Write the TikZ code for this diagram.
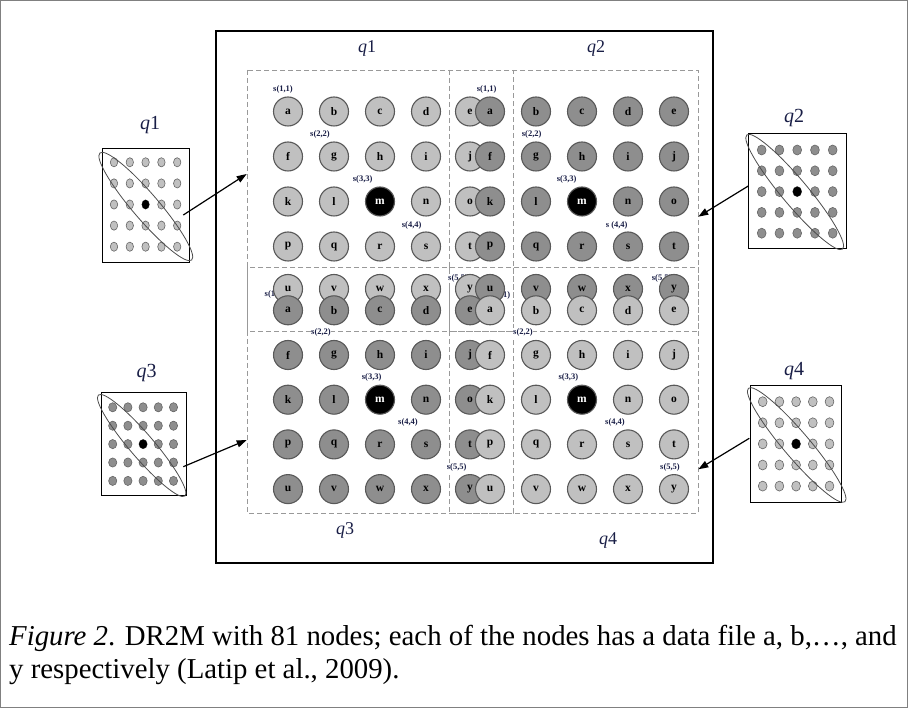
\documentclass[tikz,border=0pt]{standalone}
\usepackage{fontspec}
\setmainfont{Liberation Serif}
\usetikzlibrary{arrows.meta, positioning}

\definecolor{nodelight}{RGB}{192,192,192}
\definecolor{nodedark}{RGB}{142,142,142}
\definecolor{labelnavy}{RGB}{25,30,70}

\begin{document}
\begin{tikzpicture}[x=1pt, y=-1pt,
  peer/.style={circle, draw=black!65, line width=1.1pt, minimum size=29pt, inner sep=0pt, font=\fontsize{11.5}{11.5}\selectfont\bfseries},
  peerlight/.style={peer, fill=nodelight},
  peerdark/.style={peer, fill=nodedark},
  hub/.style={peer, fill=black, text=white},
  slabel/.style={font=\fontsize{8.5}{8.5}\selectfont\bfseries, text=labelnavy, fill=white, inner sep=0.4pt},
  region/.style={draw=black!40, dash pattern=on 5pt off 3pt, line width=0.8pt},
  qname/.style={font=\fontsize{18}{18}\selectfont, text=labelnavy},
  gridname/.style={font=\fontsize{20}{20}\selectfont, text=labelnavy},
  dotlight/.style={fill=nodelight, draw=black!60, line width=0.6pt},
  dotdark/.style={fill=nodedark, draw=black!60, line width=0.6pt},
  feed/.style={-{Triangle[length=10pt,width=7pt]}, line width=1.2pt},
  caption/.style={font=\fontsize{28.8}{33}\selectfont, anchor=base west, inner sep=0pt}
]
  \useasboundingbox (0,0) rectangle (908,708);

  % Outer figure frame
  \draw[black!50, line width=1pt] (0.5,0.5) rectangle (907.5,707.5);

  % Main frame
  \draw[line width=1.2pt] (216,31) rectangle (713,563);

  % Quadrant regions (overlapping by one row / column)
  \draw[region] (247,70) rectangle (513,331);
  \draw[region] (449,70) rectangle (698,331);
  \draw[region] (247,267) rectangle (513,513);
  \draw[region] (449,267) rectangle (698,513);

  % Quadrant names
  \node[qname] (q1-name) at (367,48) {\textit{q}1};
  \node[qname] (q2-name) at (596,48) {\textit{q}2};
  \node[qname] (q3-name) at (345,530) {\textit{q}3};
  \node[qname] (q4-name) at (608,540) {\textit{q}4};

  % Diagonal labels s(k,k)
  \foreach \qd/\k/\lx/\ly/\txt in {
      q1/1/283/89.3/{s(1,1)}, q1/2/320/134/{s(2,2)}, q1/3/362.7/179.3/{s(3,3)}, q1/4/411.7/225/{s(4,4)}, q1/5/458/278.3/{s(5,5)},
      q2/1/486.7/89.3/{s(1,1)}, q2/2/531.7/134/{s(2,2)}, q2/3/566.7/179.3/{s(3,3)}, q2/4/616.7/225/{s (4,4)}, q2/5/661.7/278.3/{s(5,5)},
      q3/1/274.5/294/{s(1,1)}, q3/2/321/332.7/{s(2,2)}, q3/3/371.7/377.7/{s(3,3)}, q3/4/408/422.7/{s(4,4)}, q3/5/456.7/467.7/{s(5,5)},
      q4/1/500.5/295/{s(1,1)}, q4/2/523/332.7/{s(2,2)}, q4/3/568.3/377.7/{s(3,3)}, q4/4/615/422.7/{s(4,4)}, q4/5/670/467.7/{s(5,5)}}
    \node[slabel] (\qd-s\k) at (\lx,\ly) {\txt};

  % Peer nodes a..y of each quadrant, q1 first so later quadrants lie on top
  \foreach \qd/\xo/\xc/\yo/\dy/\yc/\tone in {
      q1/288/-2/111.5/45/-2.5/peerlight,
      q2/490/0/111.5/45/-2.5/peerdark,
      q3/288/-2/310.3/44.7/0/peerdark,
      q4/490/0/310.3/44.7/0/peerlight} {
    \foreach \ltr [count=\i from 0] in {a,b,c,d,e,f,g,h,i,j,k,l,m,n,o,p,q,r,s,t,u,v,w,x,y} {
      \pgfmathtruncatemacro\col{mod(\i,5)}
      \pgfmathtruncatemacro\row{div(\i,5)}
      \pgfmathsetmacro\px{\xo+46*\col+(\xc)*(\col==4)}
      \pgfmathsetmacro\py{\yo+\dy*\row+(\yc)*(\row==4)}
      \ifnum\i=12
        \node[hub] (\qd-\ltr) at (\px,\py) {\ltr};
      \else
        \node[\tone] (\qd-\ltr) at (\px,\py) {\ltr};
      \fi
    }
  }

  % Small grid q1
  \node[gridname] (g1-name) at (150,125) {\textit{q}1};
  \draw[line width=1pt] (102.3,149) rectangle (189.3,262.3);
  \foreach \cc in {0,...,4}
    \foreach \rr in {0,...,4}
      \draw[dotlight] ({114+15.8*\cc},{162.3+21.1*\rr}) ellipse [x radius=3.7pt, y radius=4.6pt];
  \fill (145.6,204.5) ellipse [x radius=3.7pt, y radius=4.6pt];
  \draw[black!70, line width=0.8pt, rotate around={-49.4:(145.8,206.5)}] (145.8,206.5) ellipse [x radius=70.5pt, y radius=13pt];
  \coordinate (g1-tail) at (183.3,215);
  \coordinate (g1-head) at (246.7,174);
  \draw[feed] (g1-tail) -- (g1-head);

  % Small grid q2
  \node[gridname] (g2-name) at (794,118) {\textit{q}2};
  \draw[line width=1pt] (748.3,133.3) rectangle (846.7,249);
  \foreach \cc in {0,...,4}
    \foreach \rr in {0,...,4}
      \draw[dotdark] ({761.7+17.75*\cc},{150+20.8*\rr}) ellipse [x radius=4.4pt, y radius=5pt];
  \fill (797.2,191.6) ellipse [x radius=4.4pt, y radius=5pt];
  \draw[black!70, line width=0.8pt, rotate around={-50:(794.7,192)}] (794.7,192) ellipse [x radius=74.5pt, y radius=13pt];
  \coordinate (g2-tail) at (748.3,186);
  \coordinate (g2-head) at (698.3,216.7);
  \draw[feed] (g2-tail) -- (g2-head);

  % Small grid q3
  \node[gridname] (g3-name) at (146.7,373) {\textit{q}3};
  \draw[line width=1pt] (101,392.7) rectangle (186,495.7);
  \foreach \cc in {0,...,4}
    \foreach \rr in {0,...,4}
      \draw[dotdark] ({112.7+15.2*\cc},{407.3+18.4*\rr}) ellipse [x radius=4.1pt, y radius=4.6pt];
  \fill (143.1,444.1) ellipse [x radius=4.1pt, y radius=4.6pt];
  \draw[black!70, line width=0.8pt, rotate around={-49.4:(141.7,445.5)}] (141.7,445.5) ellipse [x radius=66.5pt, y radius=12pt];
  \coordinate (g3-tail) at (183.3,466.7);
  \coordinate (g3-head) at (246.7,440);
  \draw[feed] (g3-tail) -- (g3-head);

  % Small grid q4
  \node[gridname] (g4-name) at (794,371) {\textit{q}4};
  \draw[line width=1pt] (750.7,385.7) rectangle (841.7,502.7);
  \foreach \cc in {0,...,4}
    \foreach \rr in {0,...,4}
      \draw[dotlight] ({762.7+16.7*\cc},{401.7+21.1*\rr}) ellipse [x radius=4.4pt, y radius=5pt];
  \fill (796.1,443.9) ellipse [x radius=4.4pt, y radius=5pt];
  \draw[black!70, line width=0.8pt, rotate around={-49.6:(796.7,445)}] (796.7,445) ellipse [x radius=74.5pt, y radius=13pt];
  \coordinate (g4-tail) at (749.3,438.3);
  \coordinate (g4-head) at (698.3,469.3);
  \draw[feed] (g4-tail) -- (g4-head);

  % Caption
  \node[caption] (caption1) at (9,645) {\textit{Figure 2}. DR2M with 81 nodes; each of the nodes has a data file a, b,…, and};
  \node[caption] (caption2) at (9,678) {y respectively (Latip et al., 2009).};

\end{tikzpicture}
\end{document}
